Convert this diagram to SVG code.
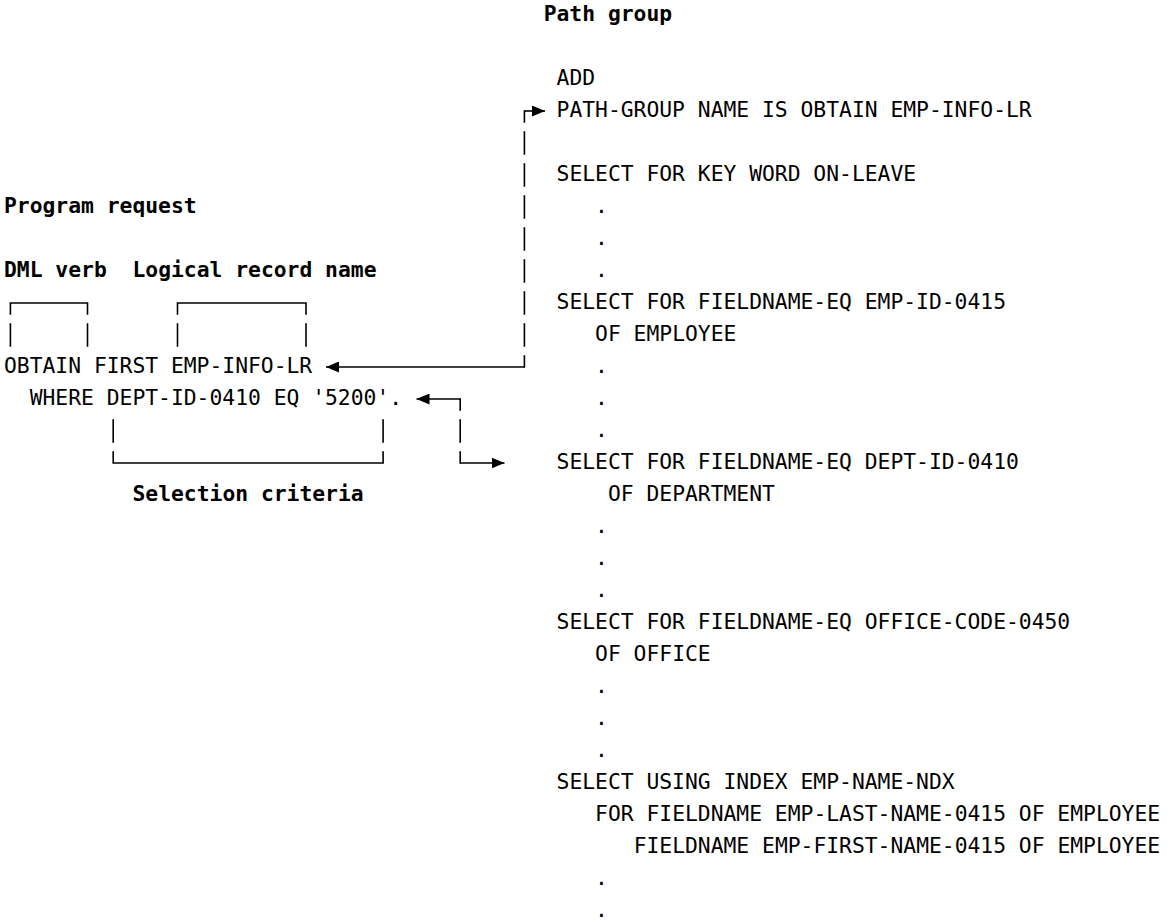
<svg xmlns="http://www.w3.org/2000/svg" width="1167" height="922" viewBox="0 0 1167 922">
  <style>
    text { font-family: "DejaVu Sans Mono", "Liberation Mono", monospace; font-size: 21.33px; fill: #000; }
    .b { font-weight: bold; }
    .ln { fill: none; stroke: #000; stroke-width: 1.6; stroke-linecap: square; }
    .arr { fill: none; stroke: #000; stroke-width: 1.6; marker-end: url(#head); }
  </style>
  <defs>
    <marker id="head" viewBox="0 0 13 11" refX="13" refY="5.5" markerWidth="13" markerHeight="11" markerUnits="userSpaceOnUse" orient="auto">
      <path d="M0,0 L13,5.5 L0,11 Z" fill="#000"/>
    </marker>
  </defs>
  <rect width="1167" height="922" fill="#fff"/>

  <!-- Path group definition listing (right column) -->
  <g id="path-group">
    <text class="b" x="543.7" y="21">Path group</text>
    <text x="556.55" y="85">ADD</text>
    <text x="556.55" y="117">PATH-GROUP NAME IS OBTAIN EMP-INFO-LR</text>
    <text x="556.55" y="181">SELECT FOR KEY WORD ON-LEAVE</text>
    <text x="595.1" y="213">.</text>
    <text x="595.1" y="245">.</text>
    <text x="595.1" y="277">.</text>
    <text x="556.55" y="309">SELECT FOR FIELDNAME-EQ EMP-ID-0415</text>
    <text x="595.1" y="341">OF EMPLOYEE</text>
    <text x="595.1" y="373">.</text>
    <text x="595.1" y="405">.</text>
    <text x="595.1" y="437">.</text>
    <text x="556.55" y="469">SELECT FOR FIELDNAME-EQ DEPT-ID-0410</text>
    <text x="607.95" y="501">OF DEPARTMENT</text>
    <text x="595.1" y="533">.</text>
    <text x="595.1" y="565">.</text>
    <text x="595.1" y="597">.</text>
    <text x="556.55" y="629">SELECT FOR FIELDNAME-EQ OFFICE-CODE-0450</text>
    <text x="595.1" y="661">OF OFFICE</text>
    <text x="595.1" y="693">.</text>
    <text x="595.1" y="725">.</text>
    <text x="595.1" y="757">.</text>
    <text x="556.55" y="789">SELECT USING INDEX EMP-NAME-NDX</text>
    <text x="595.1" y="821">FOR FIELDNAME EMP-LAST-NAME-0415 OF EMPLOYEE</text>
    <text x="633.65" y="853">FIELDNAME EMP-FIRST-NAME-0415 OF EMPLOYEE</text>
    <text x="595.1" y="885">.</text>
    <text x="595.1" y="917">.</text>
  </g>

  <!-- Program request (left column) -->
  <g id="program-request">
    <text class="b" x="4" y="213">Program request</text>
    <text class="b" x="4" y="277">DML verb</text>
    <text class="b" x="132.5" y="277">Logical record name</text>
    <text x="4" y="373">OBTAIN FIRST EMP-INFO-LR</text>
    <text x="29.7" y="405">WHERE DEPT-ID-0410 EQ '5200'.</text>
    <text class="b" x="132.5" y="501">Selection criteria</text>
  </g>

  <!-- Brackets and arrows -->
  <g id="connectors">
    <!-- bracket over the DML verb -->
    <path class="ln" d="M10.4 303 H87.5 M10.4 303 V314 M10.4 324 V346 M87.5 303 V314 M87.5 324 V346"/>
    <!-- bracket over the logical record name -->
    <path class="ln" d="M177.5 303 H306 M177.5 303 V314 M177.5 324 V346 M306 303 V314 M306 324 V346"/>
    <!-- bracket under the selection criteria -->
    <path class="ln" d="M113.2 463 H383.1 M113.2 420 V442 M113.2 452 V463 M383.1 420 V442 M383.1 452 V463"/>
    <!-- record name to path-group name -->
    <path class="ln" d="M524.4 111 V122 M524.4 132 V154 M524.4 164 V186 M524.4 196 V218 M524.4 228 V250 M524.4 260 V282 M524.4 292 V314 M524.4 324 V346 M524.4 356 V367"/>
    <path class="arr" d="M524.4 111 H545"/>
    <path class="arr" d="M524.4 367 H326"/>
    <!-- where clause to department selection -->
    <path class="ln" d="M460.2 399 V410 M460.2 420 V442 M460.2 452 V463"/>
    <path class="arr" d="M460.2 399 H416.5"/>
    <path class="arr" d="M460.2 463 H504.5"/>
  </g>
</svg>
